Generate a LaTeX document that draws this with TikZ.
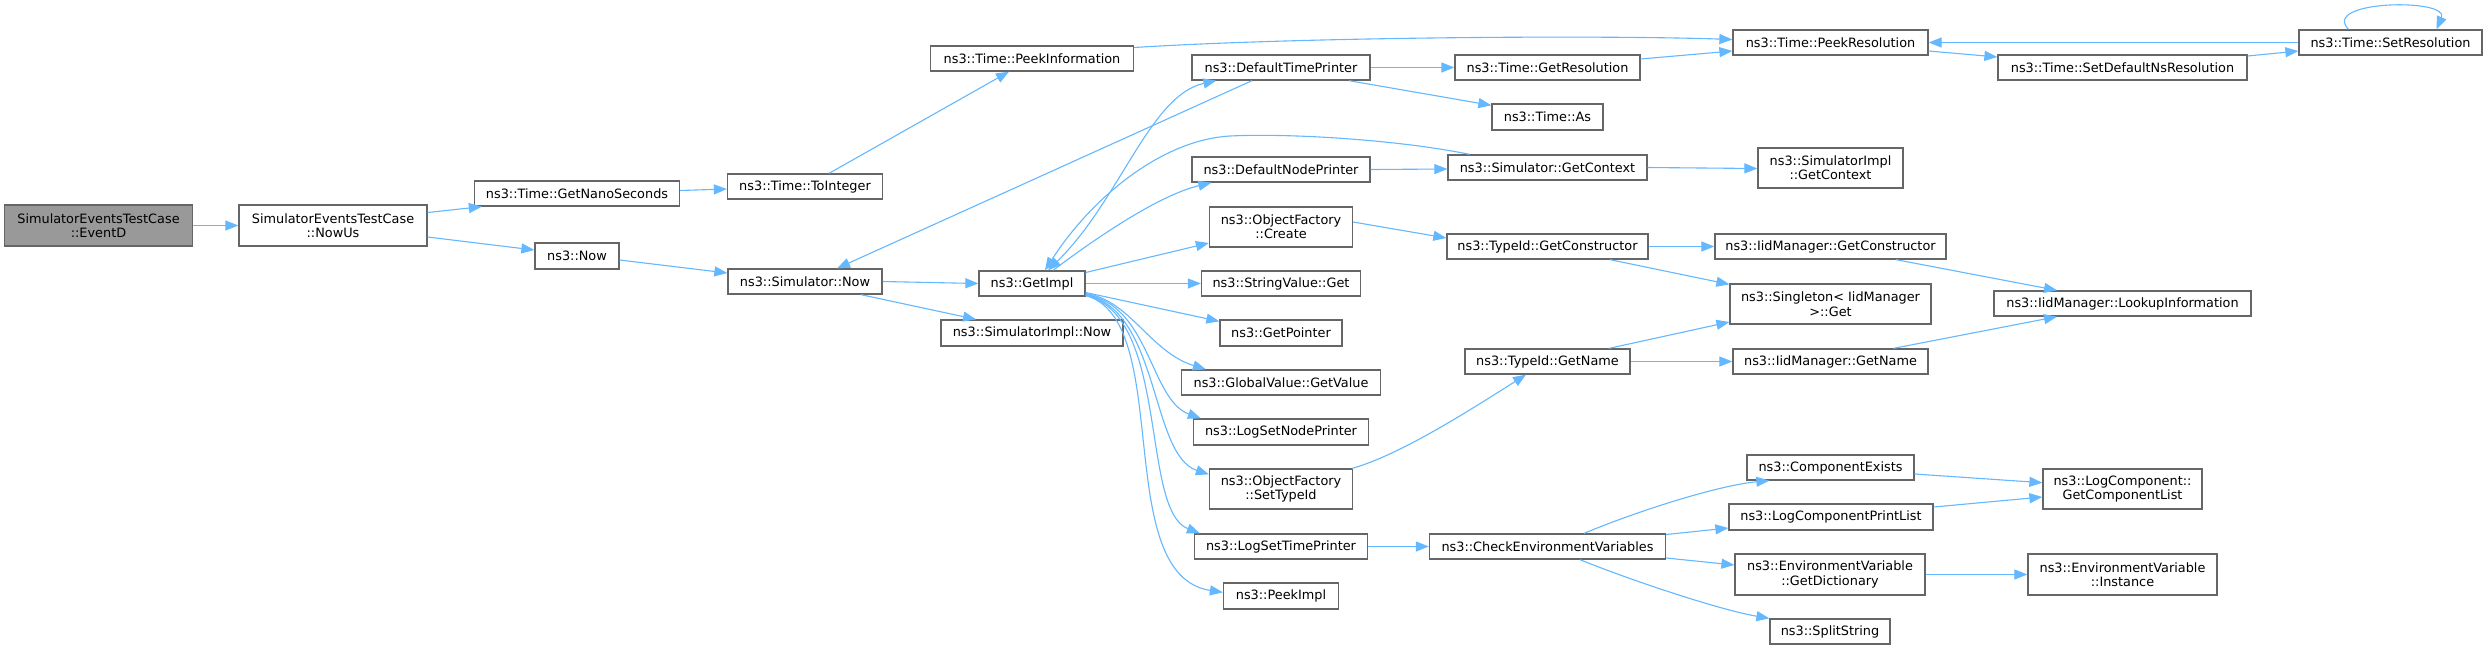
\documentclass[tikz,border=0pt]{standalone}
\usepackage{fontspec}
\setmainfont{DejaVu Sans}
\usetikzlibrary{arrows.meta}
\definecolor{edgec}{HTML}{63B8FF}
\definecolor{boxc}{HTML}{666666}
\definecolor{selc}{HTML}{999999}
\tikzset{
  box/.style={draw=boxc, line width=1.3pt, fill=white, inner sep=0pt, align=center,
    font=\fontsize{12.85pt}{14.4pt}\selectfont},
  edge/.style={draw=edgec, line width=1.1pt, -{Triangle[length=13pt,width=10pt]}},
  dedge/.style={draw=edgec, line width=1.1pt, {Triangle[length=13pt,width=10pt]}-{Triangle[length=13pt,width=10pt]}},
}
\newcommand\mknode[7][]{\node[box,#1,minimum width=#5pt,minimum height=#6pt] (#2) at (#3,#4) {#7};}
\begin{document}
\begin{tikzpicture}[x=1pt,y=-1pt]
\useasboundingbox[fill=white] (0,0) rectangle (2488,649);
% column 1-2
\mknode[fill=selc]{ev}{98.5}{225.5}{188}{41}{SimulatorEventsTestCase\\::EventD}
\mknode{nowus}{333}{225.5}{188}{41}{SimulatorEventsTestCase\\::NowUs}
% column 3
\mknode{gns}{577}{193.5}{205}{25}{ns3::Time::GetNanoSeconds}
\mknode{now}{577}{256}{84}{26}{ns3::Now}
% column 4
\mknode{toint}{805}{186.5}{155}{25}{ns3::Time::ToInteger}
\mknode{simnow}{805}{281.5}{154}{25}{ns3::Simulator::Now}
% column 5
\mknode{peekinfo}{1032}{58.5}{203}{25}{ns3::Time::PeekInformation}
\mknode{getimpl}{1032}{283.5}{106}{25}{ns3::GetImpl}
\mknode{simimplnow}{1032}{333}{182}{26}{ns3::SimulatorImpl::Now}
% column 6
\mknode{dtp}{1281}{67.5}{178}{25}{ns3::DefaultTimePrinter}
\mknode{dnp}{1281}{169.5}{178}{25}{ns3::DefaultNodePrinter}
\mknode{ofcreate}{1281}{227}{143}{40}{ns3::ObjectFactory\\::Create}
\mknode{strget}{1281}{283.5}{159}{25}{ns3::StringValue::Get}
\mknode{getptr}{1281}{333}{122}{26}{ns3::GetPointer}
\mknode{gvget}{1281}{382.5}{199}{25}{ns3::GlobalValue::GetValue}
\mknode{lsnp}{1281}{432}{175}{26}{ns3::LogSetNodePrinter}
\mknode{ofsettid}{1281}{489}{143}{40}{ns3::ObjectFactory\\::SetTypeId}
\mknode{lstp}{1281}{546.5}{173}{25}{ns3::LogSetTimePrinter}
\mknode{peekimpl}{1281}{596}{115}{26}{ns3::PeekImpl}
% column 7
\mknode{getres}{1547.5}{67.5}{185}{25}{ns3::Time::GetResolution}
\mknode{tas}{1547.5}{117}{111}{26}{ns3::Time::As}
\mknode{sgc}{1547.5}{167.5}{199}{25}{ns3::Simulator::GetContext}
\mknode{tgc}{1547.5}{246.5}{201}{25}{ns3::TypeId::GetConstructor}
\mknode{tgn}{1547.5}{361.5}{165}{25}{ns3::TypeId::GetName}
\mknode{cev}{1547.5}{546.5}{236}{25}{ns3::CheckEnvironmentVariables}
% column 8
\mknode{peekres}{1830.5}{42.5}{195}{25}{ns3::Time::PeekResolution}
\mknode{sigc}{1830.5}{168}{145}{40}{ns3::SimulatorImpl\\::GetContext}
\mknode{igc}{1830.5}{246.5}{231}{25}{ns3::IidManager::GetConstructor}
\mknode{singleton}{1830.5}{304}{201}{40}{ns3::Singleton< IidManager\\ >::Get}
\mknode{ign}{1830.5}{361.5}{195}{25}{ns3::IidManager::GetName}
\mknode{cex}{1830.5}{467.5}{167}{25}{ns3::ComponentExists}
\mknode{lcpl}{1831}{517}{204}{26}{ns3::LogComponentPrintList}
\mknode{gdict}{1830}{574.5}{190}{41}{ns3::EnvironmentVariable\\::GetDictionary}
\mknode{split}{1830}{631.5}{120}{25}{ns3::SplitString}
% column 9
\mknode{sdns}{2122.5}{67.5}{249}{25}{ns3::Time::SetDefaultNsResolution}
\mknode{lookup}{2122.5}{303.5}{257}{25}{ns3::IidManager::LookupInformation}
\mknode{gcl}{2122.5}{489}{159}{40}{ns3::LogComponent::\\GetComponentList}
\mknode{inst}{2122.5}{574.5}{189}{41}{ns3::EnvironmentVariable\\::Instance}
% column 10
\mknode{setres}{2390.5}{42.5}{183}{25}{ns3::Time::SetResolution}

% ---- connectors ----
\draw[edge] (ev.east) -- (nowus.west);
\draw[edge] ([yshift=13pt]nowus.east) -- ([xshift=8pt]gns.south west);
\draw[edge] ([yshift=-11.5pt]nowus.east) -- ([yshift=6pt]now.west);
\draw[edge] ([yshift=3pt]gns.east) -- ([yshift=-2.5pt]toint.west);
\draw[edge] ([xshift=24pt]toint.north) -- ([xshift=-23pt]peekinfo.south);
\draw[edge] ([yshift=11pt]peekinfo.east) .. controls (1300,37) and (1600,35) .. ([yshift=3pt]peekres.west);
\draw[edge] ([yshift=-4pt]now.east) -- ([yshift=8.5pt]simnow.west);
\draw[edge] (simnow.east) -- (getimpl.west);
\draw[edge] ([xshift=56pt]simnow.south) -- ([xshift=-56pt]simimplnow.north);
% GetImpl fan
\draw[dedge] ([xshift=16pt]getimpl.north) .. controls (1120,200) and (1150,95) .. ([xshift=25pt]dtp.south west);
\draw[edge] ([xshift=21pt]getimpl.north) .. controls (1100,235) and (1160,195) .. ([xshift=20pt]dnp.south west);
\draw[edge] ([yshift=11pt]getimpl.east) -- ([yshift=-16pt]ofcreate.west);
\draw[edge] (getimpl.east) -- (strget.west);
\draw[edge] ([yshift=-9pt]getimpl.east) -- ([yshift=-2pt]getptr.north west);
\draw[edge] ([yshift=-10pt]getimpl.east) .. controls (1130,300) and (1150,352) .. ([xshift=25pt]gvget.north west);
\draw[edge] ([yshift=-11pt]getimpl.east) .. controls (1150,305) and (1150,400) .. ([xshift=8pt]lsnp.north west);
\draw[edge] ([yshift=-11.5pt]getimpl.east) .. controls (1160,310) and (1150,455) .. ([yshift=-6pt]ofsettid.north west);
\draw[edge] ([yshift=-12pt]getimpl.east) .. controls (1170,315) and (1140,510) .. ([xshift=6pt]lstp.north west);
\draw[edge] ([yshift=-12pt]getimpl.east) .. controls (1175,320) and (1110,575) .. ([yshift=-10pt]peekimpl.north west);
\draw[edge] ([xshift=-29pt]dtp.south) -- ([xshift=32pt]simnow.north);
\draw[edge] ([xshift=-78pt]sgc.north) .. controls (1400,140) and (1290,133) .. (1230,136)
  .. controls (1160,140) and (1090,200) .. ([xshift=13pt]getimpl.north);
% column 6 -> 7
\draw[edge] (dtp.east) -- (getres.west);
\draw[edge] ([xshift=68pt]dtp.south) -- ([yshift=-2pt]tas.north west);
\draw[edge] (dnp.east) -- ([yshift=-1.5pt]sgc.west);
\draw[edge] ([yshift=5pt]ofcreate.east) -- ([yshift=8.5pt]tgc.west);
\draw[edge] ([xshift=-1pt]ofsettid.north east) .. controls (1400,455) and (1470,410) .. ([xshift=-21.5pt]tgn.south);
\draw[edge] (lstp.east) -- (cev.west);
% column 7 -> 8
\draw[edge] ([yshift=8.5pt]getres.east) -- ([yshift=-8.5pt]peekres.west);
\draw[edge] (sgc.east) -- ([yshift=-0.5pt]sigc.west);
\draw[edge] (tgc.east) -- (igc.west);
\draw[edge] ([xshift=62.5pt]tgc.south) -- ([yshift=-1pt]singleton.north west);
\draw[edge] ([xshift=61.5pt]tgn.north) -- ([yshift=-18pt]singleton.west);
\draw[edge] (tgn.east) -- (ign.west);
\draw[edge] ([xshift=36.5pt]cev.north) .. controls (1640,510) and (1720,485) .. ([xshift=23pt]cex.south west);
\draw[edge] ([yshift=12pt]cev.east) -- ([yshift=-11pt]lcpl.west);
\draw[edge] ([yshift=-11.5pt]cev.east) -- ([yshift=9.5pt]gdict.west);
\draw[edge] ([xshift=32.5pt]cev.south) .. controls (1630,580) and (1720,610) .. (split.north west);
% column 8 -> 9
\draw[edge] ([yshift=-8.5pt]peekres.east) -- ([yshift=10.5pt]sdns.west);
\draw[edge] ([xshift=65.5pt]igc.south) -- ([xshift=-65.5pt]lookup.north);
\draw[edge] ([xshift=63pt]ign.north) -- ([xshift=-65.5pt]lookup.south);
\draw[edge] ([yshift=-6.5pt]cex.east) -- ([yshift=6.3pt]gcl.west);
\draw[edge] ([yshift=10pt]lcpl.east) -- ([yshift=-8pt]gcl.west);
\draw[edge] (gdict.east) -- (inst.west);
% column 9 -> 10
\draw[edge] ([yshift=11.5pt]sdns.east) -- ([yshift=-8.5pt]setres.west);
\draw[edge] (setres.west) -- (peekres.east);
\draw[edge] ([xshift=-42pt]setres.north) .. controls (2320,0) and (2450,-2) .. ([xshift=46pt]setres.north);
\end{tikzpicture}
\end{document}
